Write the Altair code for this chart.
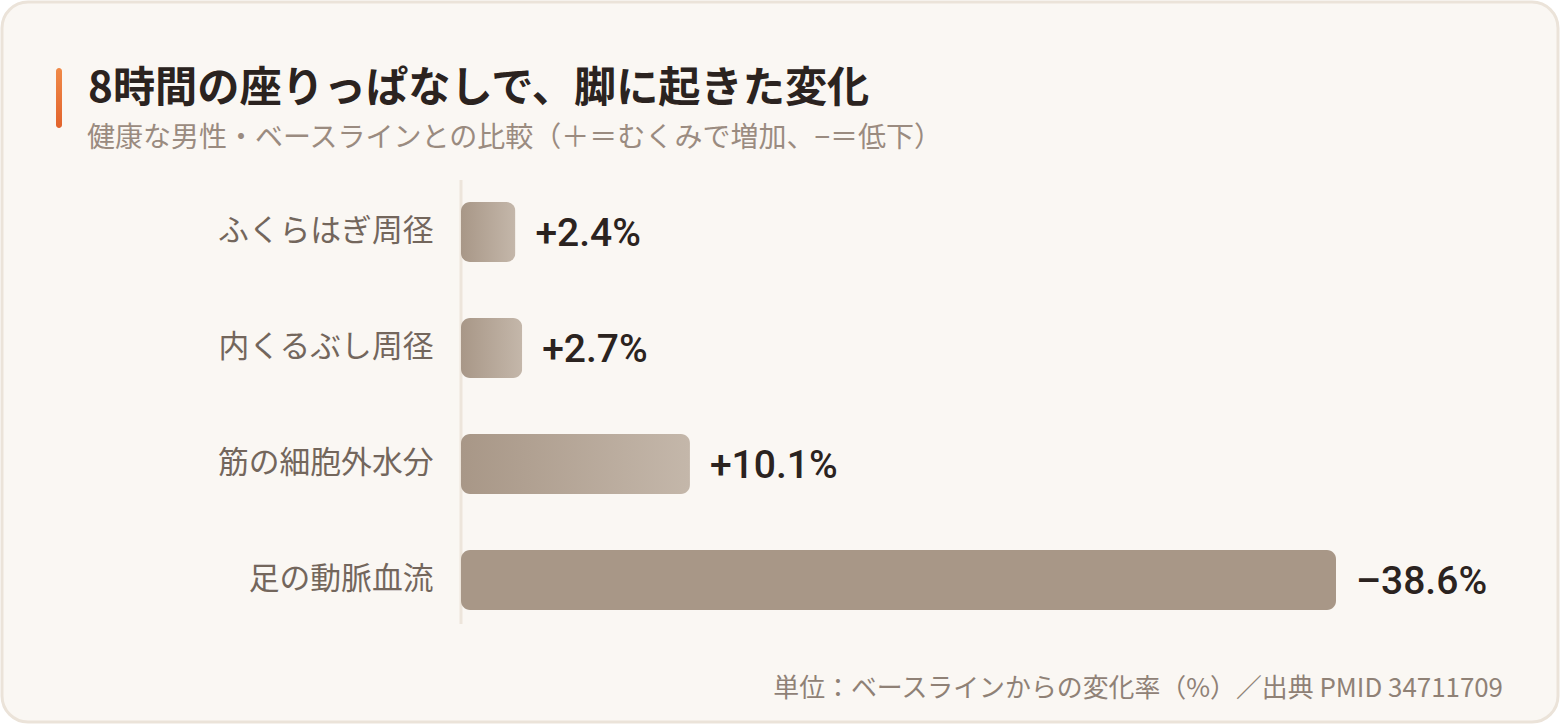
import altair as alt
import pandas as pd

# ---- data ----
categories = ["ふくらはぎ周径", "内くるぶし周径", "筋の細胞外水分", "足の動脈血流"]
values = [2.4, 2.7, 10.1, -38.6]
labels = ["+2.4%", "+2.7%", "+10.1%", "–38.6%"]

title_text = "8時間の座りっぱなしで、脚に起きた変化"
subtitle_text = "健康な男性・ベースラインとの比較（＋＝むくみで増加、−＝低下）"
footer_text = "単位：ベースラインからの変化率（%）／出典 PMID 34711709"

df = pd.DataFrame({"cat": categories, "value": values, "label": labels})
df["mag"] = df["value"].abs()

FONT = "Noto Sans CJK JP"
W, H = 875, 464
PL, PT = 461, 174
TOTAL_W, TOTAL_H = 1560, 724

x_scale = alt.Scale(domain=[0, 38.6], nice=False, zero=True)
y_scale = alt.Scale(paddingInner=0.483, paddingOuter=0.2415)

base = alt.Chart(df)
one = pd.DataFrame({"k": [0]})

# card background
card = alt.Chart(one).mark_rect(
    fill="#faf7f3", stroke="#ebe3d9", strokeWidth=3, cornerRadius=26
).encode(
    x=alt.value(-PL + 2), x2=alt.value(TOTAL_W - PL - 2),
    y=alt.value(-PT + 2), y2=alt.value(TOTAL_H - PT - 2),
)

accent = alt.Chart(one).mark_rect(
    cornerRadius=3,
    color=alt.LinearGradient(
        gradient="linear",
        stops=[alt.GradientStop(color="#f08a48", offset=0),
               alt.GradientStop(color="#e2632c", offset=1)],
        x1=0, x2=0, y1=0, y2=1,
    ),
).encode(
    x=alt.value(56 - PL), x2=alt.value(62 - PL),
    y=alt.value(68 - PT), y2=alt.value(128 - PT),
)

title = alt.Chart(pd.DataFrame({"t": [title_text]})).mark_text(
    align="left", baseline="alphabetic", font=FONT, fontSize=42.2, fontWeight="bold",
    color="#2b2320",
).encode(x=alt.value(88 - PL), y=alt.value(102 - PT), text="t:N")

subtitle = alt.Chart(pd.DataFrame({"t": [subtitle_text]})).mark_text(
    align="left", baseline="alphabetic", font=FONT, fontSize=28, color="#9a8b80",
).encode(x=alt.value(87 - PL), y=alt.value(147 - PT), text="t:N")

axis_line = alt.Chart(one).mark_rule(
    color="#ede5db", strokeWidth=3
).encode(x=alt.value(0), y=alt.value(6), y2=alt.value(450))

grad = alt.LinearGradient(
    gradient="linear",
    stops=[alt.GradientStop(color="#a89787", offset=0),
           alt.GradientStop(color="#c4b7aa", offset=1)],
    x1=0, x2=1, y1=0, y2=0,
)

y_enc = alt.Y(
    "cat:N", sort=categories, scale=y_scale, title=None,
    axis=alt.Axis(ticks=False, domain=False, labelPadding=28, labelFontSize=30.8,
                  labelFont=FONT, labelColor="#73665c", labelLimit=400, zindex=2),
)
x_enc = alt.X("mag:Q", scale=x_scale, axis=None)

bars_pos = base.transform_filter("datum.value >= 0").mark_bar(
    color=grad, cornerRadius=9
).encode(x=x_enc, y=y_enc)

bars_neg = base.transform_filter("datum.value < 0").mark_bar(
    color="#a89787", cornerRadius=9
).encode(x=x_enc, y=y_enc)

text = base.mark_text(
    align="left", baseline="middle", dx=20, dy=2, font="Roboto", fontSize=39,
    fontWeight=500, color="#2b2320",
).encode(x=x_enc, y=y_enc, text="label:N")

footer = alt.Chart(pd.DataFrame({"t": [footer_text]})).mark_text(
    align="right", baseline="alphabetic", font=FONT, fontSize=25.9, color="#8f8176",
).encode(x=alt.value(1503 - PL), y=alt.value(697 - PT), text="t:N")

chart = alt.layer(card, accent, title, subtitle, axis_line, bars_pos, bars_neg, text, footer).properties(
    width=W, height=H,
    autosize=alt.AutoSizeParams(type="none"),
    padding={"left": PL, "top": PT, "right": TOTAL_W - PL - W, "bottom": TOTAL_H - PT - H},
    background="#ffffff",
).configure_view(stroke=None)

chart.save("out.html", embed_options={"renderer": "svg", "actions": False})
